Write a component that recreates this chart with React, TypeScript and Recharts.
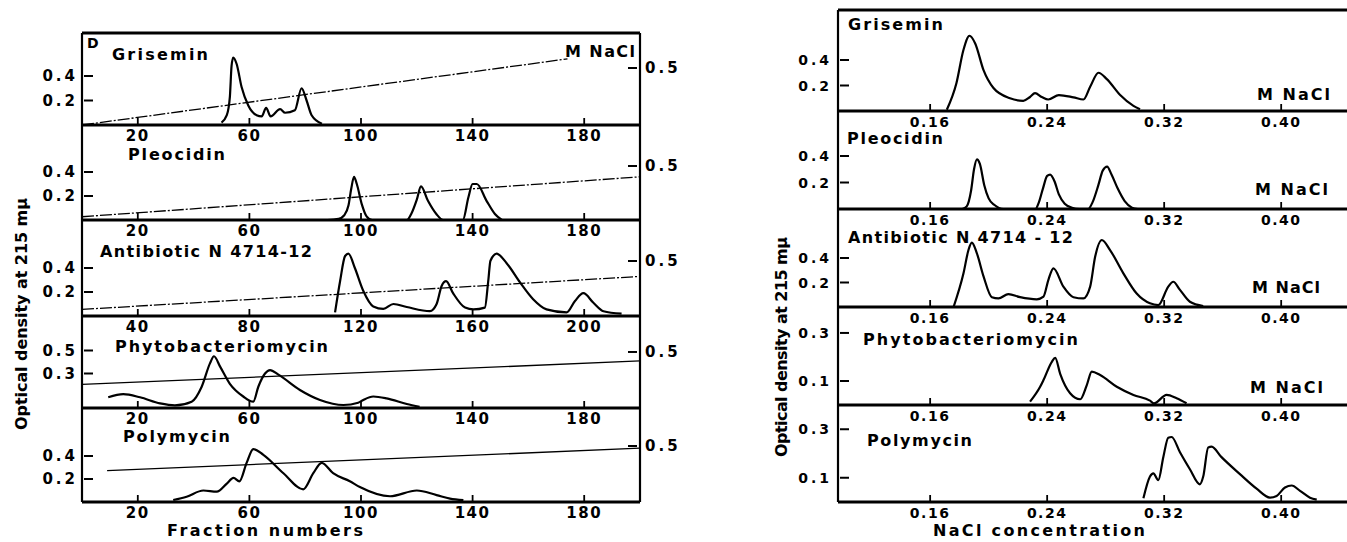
import React from 'react';
import { LineChart, Line, XAxis, YAxis, ReferenceLine } from 'recharts';

type Pt = [number, number];

// ---------- tick values ----------
const fracTicks = [20, 60, 100, 140, 180];
const fracTicksAnti = [40, 80, 120, 160, 200];
const odTicks = [0.2, 0.4];
const odTicksPhyto = [0.3, 0.5];
const odTicksLow = [0.1, 0.3];
const naclAxisTicks = [0.5];
const naclConcTicks = [0.16, 0.24, 0.32, 0.4];

// ---------- left panel: fraction number vs optical density ----------
const grisL: Pt[] = [[50, 0.02], [51.9, 0.08], [53, 0.23], [53.6, 0.48], [54.2, 0.55], [55.4, 0.5], [57.2, 0.31], [59.6, 0.16], [62.6, 0.08], [64.4, 0.07], [66, 0.14], [67.6, 0.07], [71, 0.13], [72.8, 0.1], [76.3, 0.12], [78.7, 0.3], [80.5, 0.2], [82.3, 0.08], [86, 0.01]];
const grisLNaCl: Pt[] = [[0, 0], [174, 0.58]];

const pleoL: Pt[] = [[88, 0], [92, 0.01], [94, 0.04], [95.5, 0.12], [96.5, 0.26], [97.5, 0.36], [98.5, 0.3], [100.3, 0.13], [102, 0.03], [104, 0], [116.5, 0], [118, 0.05], [120, 0.17], [121.5, 0.28], [124, 0.16], [127, 0.05], [129.5, 0], [136.5, 0], [138.5, 0.19], [140, 0.3], [141.5, 0.3], [145, 0.16], [148, 0.05], [150.5, 0]];
const pleoLNaCl: Pt[] = [[0, 0.03], [200, 0.4]];

const antiL: Pt[] = [[110.7, 0.03], [112.5, 0.29], [114.3, 0.5], [115.5, 0.52], [117.8, 0.4], [120.8, 0.21], [124.4, 0.08], [128, 0.06], [131.6, 0.1], [136.4, 0.075], [144.7, 0.04], [147.1, 0.1], [148.9, 0.25], [150.5, 0.29], [153, 0.19], [157.3, 0.07], [160.3, 0.055], [164.4, 0.07], [165.6, 0.29], [166.4, 0.46], [168.6, 0.52], [172.2, 0.44], [177, 0.28], [181.7, 0.14], [186.5, 0.055], [193.7, 0.03], [196.7, 0.125], [199.7, 0.19], [203.3, 0.11], [206.9, 0.04], [213.4, 0.02]];
const antiLNaCl: Pt[] = [[20, 0.06], [220, 0.36]];

const phytoL: Pt[] = [[9.4, 0.093], [14.8, 0.12], [20.8, 0.093], [28, 0.04], [33.3, 0.023], [39.3, 0.055], [42.9, 0.185], [45.9, 0.39], [47.3, 0.45], [49.5, 0.36], [53, 0.21], [57.8, 0.1], [61.4, 0.055], [63.2, 0.185], [65.6, 0.3], [67.4, 0.33], [70.4, 0.29], [78.1, 0.157], [85.3, 0.07], [93.7, 0.026], [99, 0.046], [100.8, 0.07], [104.4, 0.1], [109.2, 0.084], [116.4, 0.035], [121, 0.01]];
const phytoLNaCl: Pt[] = [[0, 0.21], [200, 0.42]];

const polyL: Pt[] = [[32.7, 0.017], [37.5, 0.046], [43.5, 0.1], [48.3, 0.09], [51.9, 0.16], [54.3, 0.21], [56.4, 0.18], [59, 0.34], [61.4, 0.46], [65, 0.41], [72.2, 0.25], [79.3, 0.11], [82.9, 0.25], [85.9, 0.34], [90, 0.25], [96, 0.18], [99.6, 0.13], [110.4, 0.05], [120, 0.1], [127.1, 0.06], [131.9, 0.03], [136.7, 0.017]];
const polyLNaCl: Pt[] = [[9, 0.28], [200, 0.48]];

// ---------- right panel: NaCl concentration vs optical density ----------
const grisR: Pt[] = [[0.1714, 0.01], [0.178, 0.22], [0.1828, 0.48], [0.1869, 0.59], [0.1908, 0.53], [0.1965, 0.32], [0.2033, 0.18], [0.2146, 0.1], [0.2237, 0.08], [0.2283, 0.11], [0.2317, 0.14], [0.2363, 0.11], [0.2408, 0.09], [0.248, 0.125], [0.258, 0.107], [0.2648, 0.09], [0.2694, 0.19], [0.2751, 0.3], [0.2808, 0.25], [0.2899, 0.125], [0.299, 0.04], [0.3035, 0.013]];
const pleoR: Pt[] = [[0.182, 0], [0.185, 0.02], [0.188, 0.14], [0.19, 0.3], [0.192, 0.375], [0.194, 0.34], [0.197, 0.18], [0.2, 0.08], [0.204, 0.03], [0.21, 0], [0.232, 0], [0.234, 0.04], [0.237, 0.15], [0.24, 0.25], [0.242, 0.26], [0.245, 0.21], [0.248, 0.11], [0.252, 0.04], [0.257, 0.01], [0.262, 0], [0.268, 0], [0.271, 0.05], [0.275, 0.18], [0.278, 0.29], [0.281, 0.32], [0.284, 0.26], [0.288, 0.16], [0.293, 0.06], [0.298, 0.01], [0.302, 0]];
const antiR: Pt[] = [[0.176, 0], [0.1828, 0.275], [0.1862, 0.465], [0.1885, 0.525], [0.1919, 0.44], [0.1965, 0.25], [0.2022, 0.08], [0.2067, 0.07], [0.2135, 0.105], [0.2215, 0.08], [0.2329, 0.063], [0.2375, 0.085], [0.2408, 0.22], [0.2443, 0.315], [0.2511, 0.166], [0.258, 0.08], [0.2648, 0.07], [0.2694, 0.166], [0.2728, 0.41], [0.2774, 0.547], [0.283, 0.465], [0.2921, 0.275], [0.3012, 0.11], [0.3103, 0.03], [0.316, 0.016], [0.3228, 0.166], [0.3262, 0.206], [0.3308, 0.14], [0.3376, 0.043], [0.3467, 0.008]];
const phytoR: Pt[] = [[0.2283, 0.014], [0.2352, 0.076], [0.2375, 0.104], [0.2432, 0.18], [0.2455, 0.196], [0.2489, 0.13], [0.2557, 0.049], [0.2626, 0.024], [0.2671, 0.083], [0.2705, 0.139], [0.2762, 0.125], [0.2876, 0.076], [0.299, 0.042], [0.3103, 0.018], [0.313, 0.007], [0.3217, 0.042], [0.3285, 0.028], [0.3353, 0.007]];
const polyR: Pt[] = [[0.3058, 0.015], [0.3103, 0.105], [0.3126, 0.118], [0.316, 0.09], [0.3194, 0.185], [0.3228, 0.265], [0.3251, 0.268], [0.3308, 0.205], [0.3376, 0.135], [0.3444, 0.073], [0.3467, 0.105], [0.3501, 0.225], [0.3524, 0.228], [0.3592, 0.185], [0.3718, 0.115], [0.3832, 0.055], [0.3923, 0.018], [0.3969, 0.025], [0.4026, 0.06], [0.4072, 0.068], [0.4129, 0.046], [0.4197, 0.018], [0.4243, 0.01]];

const FONT = "'DejaVu Sans', sans-serif";

const fmtInt = (v: number) => String(v);
const fmt1 = (v: number) => v.toFixed(1);
const fmt2 = (v: number) => v.toFixed(2);

function XTick(props: any) {
  const { x, y, payload, fmt, fs } = props;
  return (
    <g>
      <line x1={x} x2={x} y1={y} y2={y - 7} stroke="#000" strokeWidth={1.8} />
      <text x={x} y={y + 16} textAnchor="middle" fontFamily={FONT} fontWeight="bold" fontSize={fs} letterSpacing={1.5} fill="#000">
        {fmt(payload.value)}
      </text>
    </g>
  );
}

function YTickL(props: any) {
  const { x, y, payload, gap, fs } = props;
  return (
    <g>
      <line x1={x + 2} x2={x + 11} y1={y} y2={y} stroke="#000" strokeWidth={2} />
      <text x={x - gap} y={y + fs * 0.36} textAnchor="end" fontFamily={FONT} fontWeight="bold" fontSize={fs} letterSpacing={3} fill="#000">
        {fmt1(payload.value)}
      </text>
    </g>
  );
}

function YTickR(props: any) {
  const { x, y, payload, fs } = props;
  return (
    <g>
      <line x1={x - 12} x2={x - 3} y1={y} y2={y} stroke="#000" strokeWidth={2} />
      <text x={x + 5} y={y + fs * 0.36} textAnchor="start" fontFamily={FONT} fontWeight="bold" fontSize={fs} letterSpacing={3} fill="#000">
        {fmt1(payload.value)}
      </text>
    </g>
  );
}

interface SubProps {
  box: [number, number, number, number];
  xDomain: [number, number];
  xTicks: number[];
  xFmt: (v: number) => string;
  yMax: number;
  yTicks: number[];
  curve: Pt[];
  nacl?: Pt[];
  rMax?: number;
  naclDash?: string;
  topLine?: boolean;
  rightFrame?: boolean;
  fs: number;
  gap: number;
}

function Sub(p: SubProps) {
  const [L, T, R, B] = p.box;
  const LW = 80;
  const RW = p.rightFrame ? 60 : 0;
  const MT = 6;
  const XH = 26;
  const w = R - L + LW + RW;
  const h = B - T + MT + XH;
  const curveData = p.curve.map(([x, y]) => ({ x, y }));
  const naclData = (p.nacl || []).map(([x, y]) => ({ x, y }));
  return (
    <div style={{ position: 'absolute', left: L - LW, top: T - MT, width: w, height: h }}>
      <LineChart width={w} height={h} margin={{ top: MT, right: 0, bottom: 0, left: 0 }}>
        <XAxis
          type="number"
          dataKey="x"
          domain={p.xDomain}
          ticks={p.xTicks}
          allowDataOverflow
          height={XH}
          interval={0}
          axisLine={{ stroke: '#000', strokeWidth: 3 }}
          tickLine={false}
          tickSize={0}
          tickMargin={0}
          tick={(tp: any) => <XTick {...tp} fmt={p.xFmt} fs={p.fs} />}
        />
        <YAxis
          yAxisId="od"
          type="number"
          domain={[0, p.yMax]}
          ticks={p.yTicks}
          allowDataOverflow
          width={LW}
          interval={0}
          axisLine={{ stroke: '#000', strokeWidth: 2.2 }}
          tickLine={false}
          tickSize={0}
          tickMargin={0}
          tick={(tp: any) => <YTickL {...tp} gap={p.gap} fs={p.fs} />}
        />
        {p.rightFrame && (
          <YAxis
            yAxisId="m"
            orientation="right"
            type="number"
            domain={[0, p.rMax || 1]}
            ticks={naclAxisTicks}
            allowDataOverflow
            width={RW}
            interval={0}
            axisLine={{ stroke: '#000', strokeWidth: 2.2 }}
            tickLine={false}
            tickSize={0}
            tickMargin={0}
            tick={(tp: any) => <YTickR {...tp} fs={p.fs} />}
          />
        )}
        {p.topLine && <ReferenceLine yAxisId="od" y={p.yMax} stroke="#000" strokeWidth={3} ifOverflow="extendDomain" />}
        {p.nacl && (
          <Line
            yAxisId="m"
            data={naclData}
            dataKey="y"
            type="linear"
            stroke="#000"
            strokeWidth={1.3}
            strokeDasharray={p.naclDash}
            dot={false}
            activeDot={false}
            isAnimationActive={false}
          />
        )}
        <Line
          yAxisId="od"
          data={curveData}
          dataKey="y"
          type="monotone"
          stroke="#000"
          strokeWidth={2.2}
          dot={false}
          activeDot={false}
          isAnimationActive={false}
        />
      </LineChart>
    </div>
  );
}

function Txt(props: { x: number; y: number; len?: number; fs?: number; children: React.ReactNode; rotate?: boolean }) {
  const fs = props.fs || 16;
  return (
    <text
      x={props.x}
      y={props.y}
      fontFamily={FONT}
      fontWeight="bold"
      fontSize={fs}
      fill="#000"
      textLength={props.len}
      lengthAdjust="spacing"
      transform={props.rotate ? `rotate(-90 ${props.x} ${props.y})` : undefined}
    >
      {props.children}
    </text>
  );
}

export default function App() {
  const LX: [number, number] = [0, 200];
  const LXA: [number, number] = [20, 220];
  const RX: [number, number] = [0.097, 0.445];
  return (
    <div style={{ position: 'absolute', left: 0, top: 0, width: 1347, height: 542, background: '#fff', overflow: 'hidden' }}>
      {/* left panel */}
      <Sub box={[82, 33, 640, 125]} xDomain={LX} xTicks={fracTicks} xFmt={fmtInt} yMax={0.751} yTicks={odTicks} curve={grisL} nacl={grisLNaCl} rMax={0.807} naclDash="12 2 2 2" topLine rightFrame fs={15} gap={4} />
      <Sub box={[82, 125, 640, 220]} xDomain={LX} xTicks={fracTicks} xFmt={fmtInt} yMax={0.792} yTicks={odTicks} curve={pleoL} nacl={pleoLNaCl} rMax={0.88} naclDash="12 2 2 2" rightFrame fs={15} gap={4} />
      <Sub box={[82, 220, 640, 316]} xDomain={LXA} xTicks={fracTicksAnti} xFmt={fmtInt} yMax={0.8} yTicks={odTicks} curve={antiL} nacl={antiLNaCl} rMax={0.873} naclDash="12 2 2 2" rightFrame fs={15} gap={4} />
      <Sub box={[82, 316, 640, 408]} xDomain={LX} xTicks={fracTicks} xFmt={fmtInt} yMax={0.8} yTicks={odTicksPhyto} curve={phytoL} nacl={phytoLNaCl} rMax={0.821} rightFrame fs={15} gap={4} />
      <Sub box={[82, 408, 640, 502]} xDomain={LX} xTicks={fracTicks} xFmt={fmtInt} yMax={0.817} yTicks={odTicks} curve={polyL} nacl={polyLNaCl} rMax={0.839} rightFrame fs={15} gap={4} />

      {/* right panel */}
      <Sub box={[838, 10, 1347, 111]} xDomain={RX} xTicks={naclConcTicks} xFmt={fmt2} yMax={0.792} yTicks={odTicks} curve={grisR} topLine fs={14} gap={6} />
      <Sub box={[838, 111, 1347, 209]} xDomain={RX} xTicks={naclConcTicks} xFmt={fmt2} yMax={0.74} yTicks={odTicks} curve={pleoR} fs={14} gap={6} />
      <Sub box={[838, 209, 1347, 307]} xDomain={RX} xTicks={naclConcTicks} xFmt={fmt2} yMax={0.8} yTicks={odTicks} curve={antiR} fs={14} gap={6} />
      <Sub box={[838, 307, 1347, 405]} xDomain={RX} xTicks={naclConcTicks} xFmt={fmt2} yMax={0.408} yTicks={odTicksLow} curve={phytoR} fs={14} gap={6} />
      <Sub box={[838, 405, 1347, 502]} xDomain={RX} xTicks={naclConcTicks} xFmt={fmt2} yMax={0.4} yTicks={odTicksLow} curve={polyR} fs={14} gap={6} />

      <svg width={1347} height={542} style={{ position: 'absolute', left: 0, top: 0, pointerEvents: 'none' }}>
        {/* left panel labels */}
        <Txt x={87} y={48} fs={14}>D</Txt>
        <Txt x={112} y={60} len={96}>Grisemin</Txt>
        <Txt x={128} y={160} len={97}>Pleocidin</Txt>
        <Txt x={100} y={257} len={212}>Antibiotic N 4714-12</Txt>
        <Txt x={115} y={352} len={213}>Phytobacteriomycin</Txt>
        <Txt x={123} y={442} len={107}>Polymycin</Txt>
        <Txt x={565} y={57} len={70}>M NaCl</Txt>
        <Txt x={167} y={536} len={196}>Fraction numbers</Txt>
        <Txt x={27} y={430} len={232} rotate>Optical density at 215 mμ</Txt>

        {/* right panel labels */}
        <Txt x={848} y={30} len={95}>Grisemin</Txt>
        <Txt x={847} y={144} len={96}>Pleocidin</Txt>
        <Txt x={848} y={243} len={225}>Antibiotic N 4714 - 12</Txt>
        <Txt x={863} y={345} len={215}>Phytobacteriomycin</Txt>
        <Txt x={867} y={446} len={105}>Polymycin</Txt>
        <Txt x={1257} y={100} len={73}>M NaCl</Txt>
        <Txt x={1255} y={195} len={73}>M NaCl</Txt>
        <Txt x={1252} y={293} len={68}>M NaCl</Txt>
        <Txt x={1250} y={393} len={73}>M NaCl</Txt>
        <Txt x={933} y={536} len={212}>NaCl concentration</Txt>
        <Txt x={787} y={457} len={220} rotate>Optical density at 215 mμ</Txt>
      </svg>
    </div>
  );
}
